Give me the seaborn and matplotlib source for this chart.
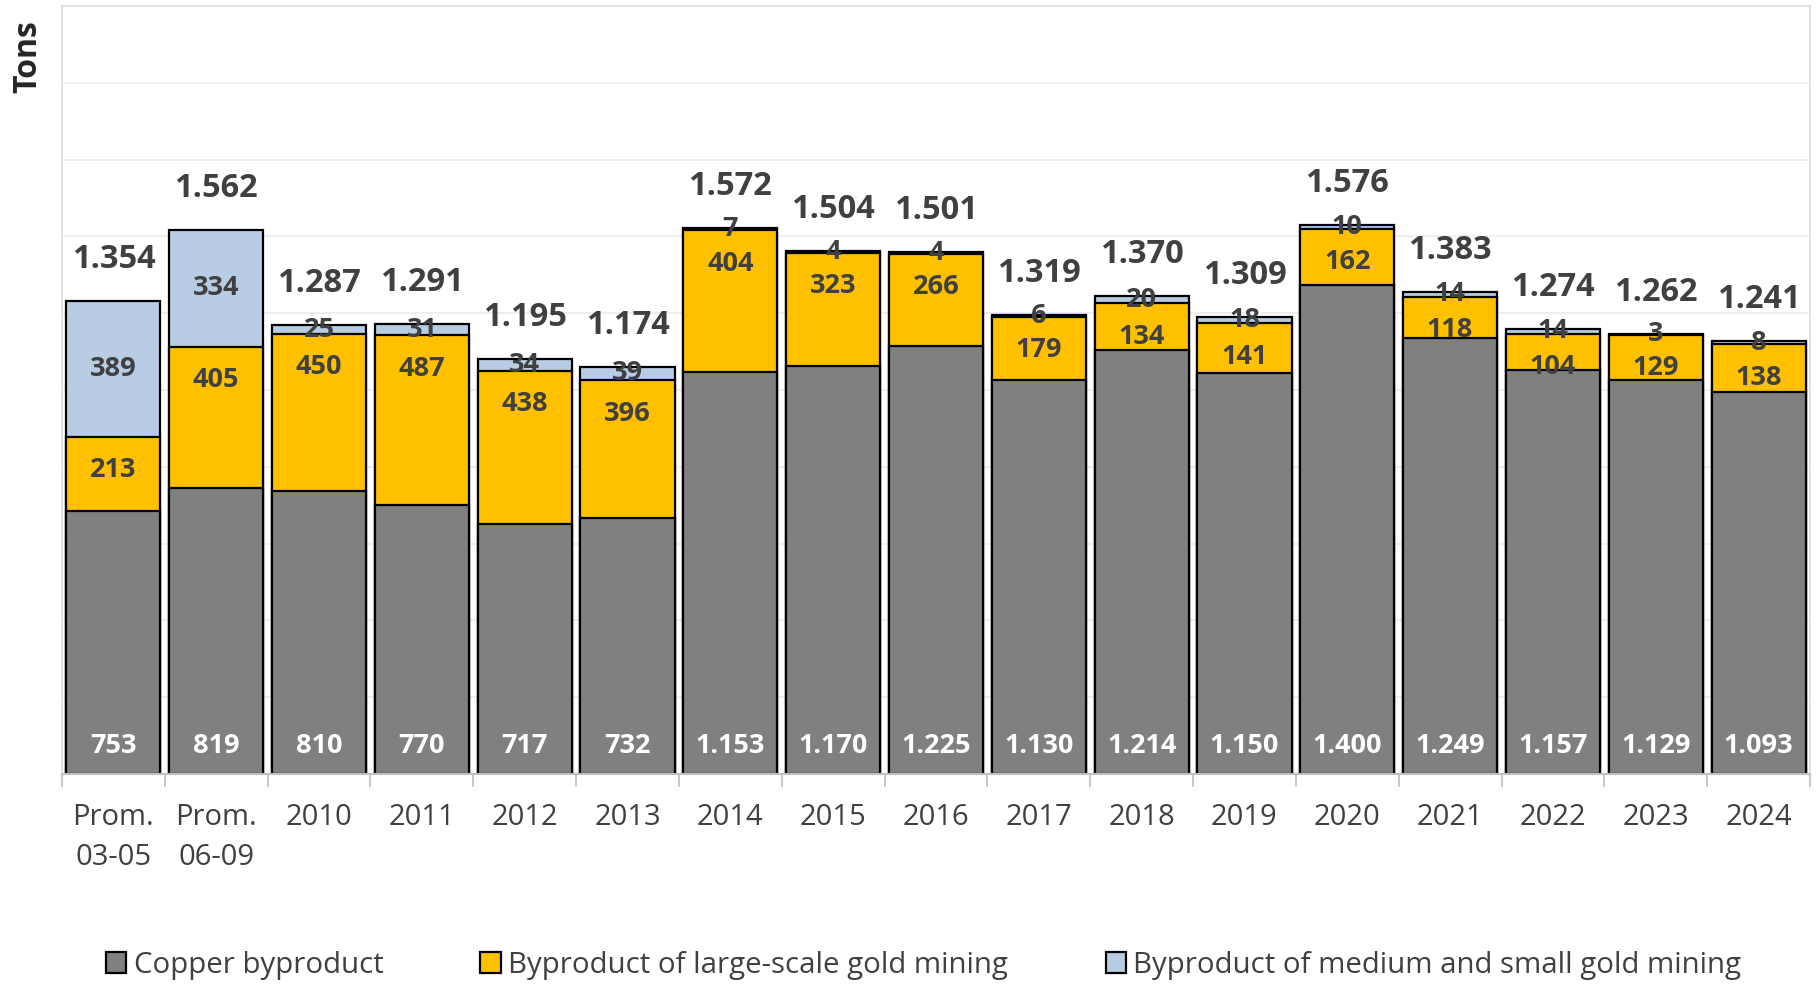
import pandas as pd
import matplotlib.pyplot as plt
import seaborn as sns
from matplotlib.patches import Patch

categories = ["Prom.\n03-05", "Prom.\n06-09", "2010", "2011", "2012", "2013", "2014", "2015",
              "2016", "2017", "2018", "2019", "2020", "2021", "2022", "2023", "2024"]
copper = [753, 819, 810, 770, 717, 732, 1153, 1170, 1225, 1130, 1214, 1150, 1400, 1249, 1157, 1129, 1093]
gold_large = [213, 405, 450, 487, 438, 396, 404, 323, 266, 179, 134, 141, 162, 118, 104, 129, 138]
gold_small = [389, 334, 25, 31, 34, 39, 7, 4, 4, 6, 20, 18, 10, 14, 14, 3, 8]
totals = [1354, 1562, 1287, 1291, 1195, 1174, 1572, 1504, 1501, 1319, 1370, 1309, 1576, 1383, 1274, 1262, 1241]
series_names = ["Copper byproduct", "Byproduct of large-scale gold mining",
                "Byproduct of medium and small gold mining"]
colors = ["#808080", "#FFC000", "#B8CCE4"]

df = pd.DataFrame({"cat": categories, "copper": copper, "large": gold_large, "small": gold_small})
df["lvl2"] = df["copper"] + df["large"]
df["lvl3"] = df["lvl2"] + df["small"]

sns.set_theme(style="white")
plt.rcParams["font.family"] = ["Open Sans", "DejaVu Sans"]

def fmt(v):
    return f"{v:,}".replace(",", ".")

fig = plt.figure(figsize=(18.18, 9.85), dpi=100)
ax = fig.add_axes([0.0341, 0.2142, 0.9615, 0.7797])

# stacked look: draw cumulative bars from the top down
for col, c in zip(["lvl3", "lvl2", "copper"], colors[::-1]):
    sns.barplot(data=df, x="cat", y=col, order=categories, color=c, width=0.915,
                saturation=1, edgecolor="black", linewidth=1.6, ax=ax)

txt = "#404040"
for i in range(len(categories)):
    # large-scale gold: inside end
    ax.annotate(str(gold_large[i]), (i, df["lvl2"][i]), xytext=(0, -24), textcoords="offset points",
                ha="center", va="center", fontsize=19.5, fontweight="bold", color=txt)
    ax.text(i, df["lvl2"][i] + gold_small[i] / 2, str(gold_small[i]), ha="center", va="center",
            fontsize=19.5, fontweight="bold", color=txt)
    ax.annotate(fmt(copper[i]), (i, 0), xytext=(0, 20), textcoords="offset points",
                ha="center", va="center", fontsize=19.5, fontweight="bold", color="white")
    ax.annotate(fmt(totals[i]), (i, df["lvl3"][i]), xytext=(0, 18), textcoords="offset points",
                ha="center", va="bottom", fontsize=23.5, fontweight="bold", color=txt)

ax.set_ylim(0, 2200)
ax.set_xlim(-0.5, len(categories) - 0.5)
ax.set_yticks(range(0, 2201, 220))
ax.set_yticklabels([])
ax.tick_params(axis="y", length=0)
ax.yaxis.grid(True, color="#EBEBEB", linewidth=1.2)
ax.set_axisbelow(True)
ax.set_xlabel("")
ax.set_ylabel("")
ax.tick_params(axis="x", which="major", length=0, labelsize=21, labelcolor=txt, pad=21)
for lab in ax.get_xticklabels():
    lab.set_linespacing(1.5)
ax.set_xticks([i - 0.5 for i in range(len(categories) + 1)], minor=True)
ax.tick_params(axis="x", which="minor", length=9, color="#BFBFBF", width=1.2, direction="out")
ax.xaxis.set_ticks_position("bottom")
for s in ["top", "left", "right"]:
    ax.spines[s].set_color("#E3E3E3")
    ax.spines[s].set_linewidth(1.5)
ax.spines["bottom"].set_color("#BFBFBF")
ax.spines["bottom"].set_linewidth(1.5)

fig.text(0.0155, 0.98, "Tons", rotation=90, ha="center", va="top", fontsize=23,
         fontweight="bold", color="#262626")

handles = [Patch(facecolor=c, edgecolor="black", linewidth=1.6) for c in colors]
fig.legend(handles, series_names, loc="center", bbox_to_anchor=(0.508, 0.02), ncol=3,
           frameon=False, fontsize=21.2, handlelength=0.7, handleheight=0.7,
           handletextpad=0.25, columnspacing=3.3, labelcolor=txt)

fig.savefig("out.png", dpi=100)
